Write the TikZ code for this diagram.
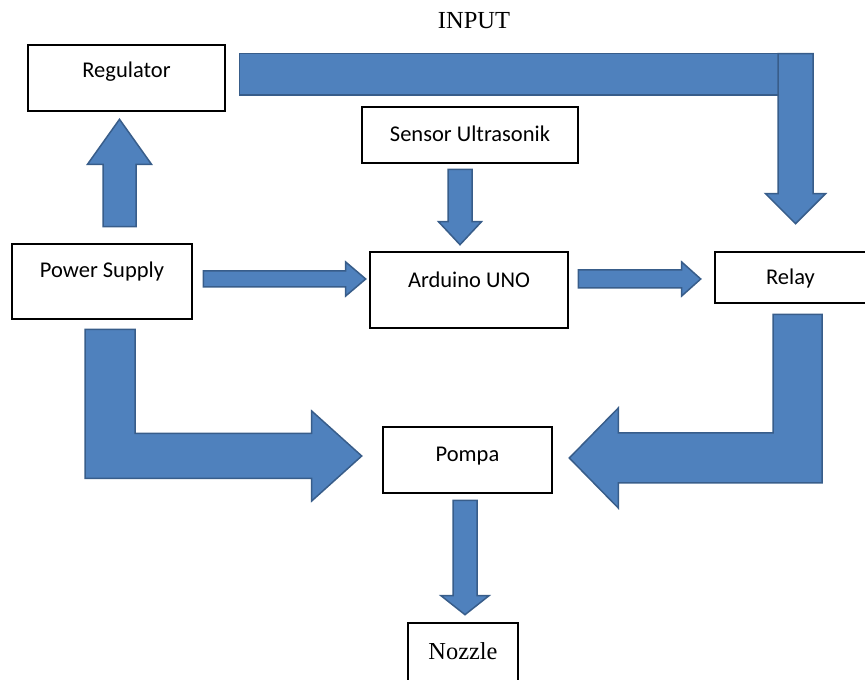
\documentclass[tikz,border=0pt]{standalone}
\usepackage{fontspec}
\setmainfont{Liberation Serif}
\newfontfamily\calibri{Carlito}
\usetikzlibrary{calc}

\definecolor{arrowfill}{HTML}{4F81BD}
\definecolor{arrowline}{HTML}{385D8A}

\newcommand\blockarrow[5]{%
	\path let \p1=(#1), \p2=(#2) in \pgfextra{%
		\pgfmathsetmacro\arlen{veclen(\x2-\x1,\y2-\y1)}%
		\pgfmathsetmacro\arang{atan2(\y2-\y1,\x2-\x1)}%
		\xdef\arlen{\arlen}\xdef\arang{\arang}%
		\xdef\arx{\x1}\xdef\ary{\y1}};
	\draw[barrow, shift={(\arx,\ary)}, rotate=\arang]
		(0,#3) -- ({\arlen-#5},#3) -- ({\arlen-#5},#4) -- (\arlen,0)
		-- ({\arlen-#5},-#4) -- ({\arlen-#5},-#3) -- (0,-#3) -- cycle;
}

\begin{document}
\begin{tikzpicture}
	[x=1pt, y=1pt,
	 block/.style={draw, line width=2.6pt, inner sep=0pt, text height=14.5pt,
		font=\calibri\fontsize{22.5}{27}\selectfont},
	 barrow/.style={draw=arrowline, fill=arrowfill, line width=1.5pt}]
\useasboundingbox (0,0) rectangle (865,680);

\node[block, minimum width=197pt, minimum height=66pt, text depth=16pt] (reg) at (126.5,602) {Regulator};
\node[block, minimum width=216pt, minimum height=56pt, text depth=1pt] (sensor) at (470,545) {Sensor Ultrasonik};
\node[block, minimum width=180pt, minimum height=75pt, text depth=22pt] (ps) at (102,398.5) {Power Supply};
\node[block, minimum width=198pt, minimum height=76pt, text depth=20pt] (ard) at (469,390) {Arduino UNO};
\node[block, minimum width=151pt, minimum height=51pt, text depth=0pt] (relay) at (790.5,402.5) {Relay};
\node[block, minimum width=169pt, minimum height=66pt, text depth=11pt] (pompa) at (467.5,220) {Pompa};
\node[block, font=\fontsize{24.4}{29}\selectfont, minimum width=110pt, minimum height=61pt,
	text height=16.2pt, text depth=3.2pt] (nozzle) at (463,26.5) {Nozzle};
\node[font=\fontsize{24.5}{29}\selectfont, anchor=base] (input) at (474,651) {INPUT};

\blockarrow{[shift={(17.5,16)}]ps.north}{[shift={(-7,-7)}]reg.south}{16.5}{32}{45}
\blockarrow{[shift={(-10,-5)}]sensor.south}{[shift={(-9,6)}]ard.north}{12}{21.5}{23}
\blockarrow{[shift={(10,2.5)}]ps.east}{[shift={(-3,11)}]ard.west}{8}{17}{20}
\blockarrow{[shift={(9,11)}]ard.east}{[shift={(-13,-1.5)}]relay.west}{9}{17}{19}

\draw[barrow] ([shift={(13,-17)}]reg.east) rectangle ([shift={(22.5,197)}]relay.north);
\blockarrow{[shift={(5,197)}]relay.north}{[shift={(5,27)}]relay.north}{17.5}{30}{30}

\coordinate (psdown) at ([shift={(8,-9)}]ps.south);
\coordinate (pompaL) at ([shift={(-20,4)}]pompa.west);
\draw[barrow] ([xshift=-25pt]psdown) -- ([xshift=25pt]psdown)
	|- ([shift={(-50,22.5)}]pompaL) -- ([shift={(-50,45)}]pompaL) -- (pompaL)
	-- ([shift={(-50,-45)}]pompaL) -- ([shift={(-50,-22.5)}]pompaL)
	-| ([xshift=-25pt]psdown) -- cycle;

\coordinate (relaydown) at ([shift={(7,-10)}]relay.south);
\coordinate (pompaR) at ([shift={(16,2)}]pompa.east);
\draw[barrow] ([xshift=24.5pt]relaydown) -- ([xshift=-24.5pt]relaydown)
	|- ([shift={(49,25)}]pompaR) -- ([shift={(49,50)}]pompaR) -- (pompaR)
	-- ([shift={(49,-50)}]pompaR) -- ([shift={(49,-25)}]pompaR)
	-| ([xshift=24.5pt]relaydown) -- cycle;

\blockarrow{[shift={(-2.5,-6)}]pompa.south}{[shift={(2,7)}]nozzle.north}{12}{24}{19}
\end{tikzpicture}
\end{document}
